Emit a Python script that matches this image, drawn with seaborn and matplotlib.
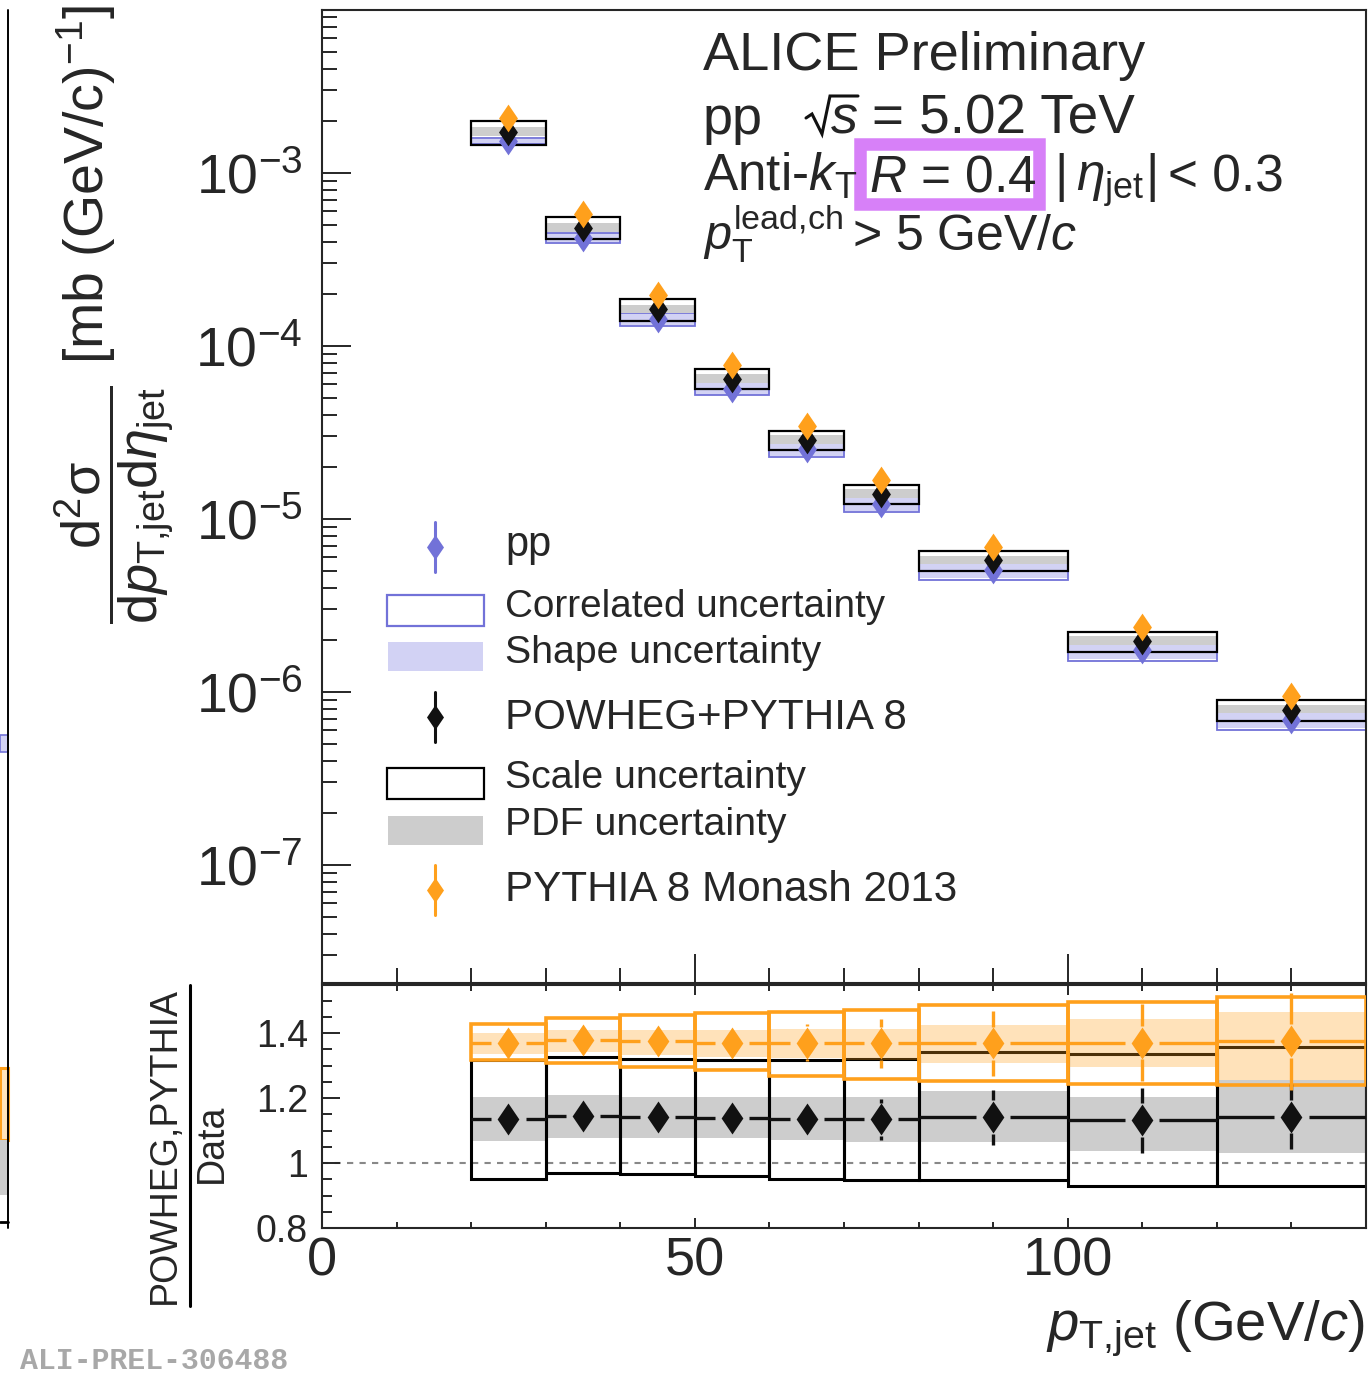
import numpy as np
import pandas as pd
import matplotlib
matplotlib.use("Agg")
import matplotlib.pyplot as plt
import seaborn as sns
from matplotlib.path import Path
from matplotlib.patches import Rectangle
from matplotlib.lines import Line2D
from matplotlib import font_manager
from matplotlib.ticker import (FixedLocator, MultipleLocator, LogLocator,
                               NullFormatter, FixedFormatter)

# ---------------- data ----------------
bin_lo = [20, 30, 40, 50, 60, 70, 80, 100, 120]
bin_hi = [30, 40, 50, 60, 70, 80, 100, 120, 140]

# measured pp cross section and its uncertainties (relative)
pp_xsec = [1.527e-3, 4.22e-4, 1.425e-4, 5.66e-5, 2.525e-5, 1.227e-5, 5.05e-6, 1.74e-6, 6.92e-7]
pp_corr_rel = [0.041, 0.073, 0.087, 0.090, 0.111, 0.123, 0.137, 0.152, 0.147]
pp_shape_rel = [0.035, 0.060, 0.075, 0.080, 0.095, 0.100, 0.110, 0.115, 0.115]

# POWHEG+PYTHIA 8
powheg_xsec = [1.732e-3, 4.83e-4, 1.626e-4, 6.44e-5, 2.863e-5, 1.391e-5, 5.76e-6, 1.97e-6, 7.91e-7]
powheg_scale_up = [1.155, 1.147, 1.145, 1.138, 1.132, 1.130, 1.133, 1.133, 1.138]
powheg_scale_dn = [0.843, 0.856, 0.862, 0.872, 0.875, 0.878, 0.872, 0.862, 0.864]
powheg_pdf_up = [1.066, 1.065, 1.065, 1.065, 1.065, 1.065, 1.068, 1.068, 1.065]
powheg_pdf_dn = [0.945, 0.950, 0.950, 0.950, 0.952, 0.952, 0.955, 0.955, 0.957]

# PYTHIA 8 Monash 2013
pythia_xsec = [2.093e-3, 5.79e-4, 1.959e-4, 7.76e-5, 3.462e-5, 1.68e-5, 6.92e-6, 2.384e-6, 9.51e-7]

# ratio panel: model / data
r_pow = [1.134, 1.145, 1.141, 1.138, 1.134, 1.134, 1.141, 1.132, 1.143]
r_pow_err = [0.020, 0.020, 0.020, 0.020, 0.030, 0.063, 0.085, 0.100, 0.100]
r_pow_pdf_hi = [1.202, 1.209, 1.203, 1.203, 1.202, 1.203, 1.222, 1.203, 1.255]
r_pow_pdf_lo = [1.067, 1.076, 1.076, 1.076, 1.071, 1.066, 1.066, 1.038, 1.030]
r_pow_box_hi = [1.317, 1.325, 1.321, 1.317, 1.317, 1.321, 1.343, 1.337, 1.358]
r_pow_box_lo = [0.950, 0.970, 0.965, 0.959, 0.950, 0.948, 0.948, 0.929, 0.929]

r_pyt = [1.371, 1.378, 1.375, 1.371, 1.371, 1.368, 1.368, 1.371, 1.375]
r_pyt_err = [0.020, 0.020, 0.020, 0.025, 0.056, 0.076, 0.100, 0.118, 0.149]
r_pyt_band_hi = [1.399, 1.409, 1.409, 1.409, 1.414, 1.414, 1.425, 1.442, 1.466]
r_pyt_band_lo = [1.337, 1.343, 1.332, 1.327, 1.322, 1.317, 1.307, 1.296, 1.255]
r_pyt_box_hi = [1.427, 1.445, 1.455, 1.461, 1.466, 1.471, 1.486, 1.496, 1.510]
r_pyt_box_lo = [1.317, 1.309, 1.296, 1.286, 1.268, 1.258, 1.253, 1.243, 1.240]

x_ticklabels = ["0", "50", "100"]
r_ticklabels = ["0.8", "1", "1.2", "1.4"]

# ---------------- style ----------------
sns.set_theme(style="ticks")
plt.rcParams['font.family'] = ['Liberation Sans', 'DejaVu Sans']
plt.rcParams['mathtext.fontset'] = 'custom'
plt.rcParams['mathtext.rm'] = 'Liberation Sans'
plt.rcParams['mathtext.it'] = 'Liberation Sans:italic'
plt.rcParams['mathtext.bf'] = 'Liberation Sans:bold'
plt.rcParams['mathtext.sf'] = 'Liberation Sans'
plt.rcParams['axes.linewidth'] = 1.5

PURPLE = '#7272d8'
LPURPLE = '#d2d2f4'
GREY = '#cdcdcd'
ORANGE = '#ffa01c'
MAGENTA = '#d780f8'

lo = np.array(bin_lo, float)
hi = np.array(bin_hi, float)
xc = (lo + hi) / 2
wd = hi - lo

diamond = Path([(0, 1), (0.68, 0), (0, -1), (-0.68, 0), (0, 1)],
               [Path.MOVETO, Path.LINETO, Path.LINETO, Path.LINETO, Path.CLOSEPOLY])

W, H = 1369, 1373
fig = plt.figure(figsize=(W / 100, H / 100), dpi=100)


def fx(x):
    return x / W


def fy(y):
    return 1 - y / H


ax1 = fig.add_axes([fx(322), fy(983), (1366 - 322) / W, (983 - 10) / H])
ax2 = fig.add_axes([fx(322), fy(1228), (1366 - 322) / W, (1228 - 985) / H])

# ---------------- top panel ----------------
pp = np.array(pp_xsec)
pw = np.array(powheg_xsec)
py = np.array(pythia_xsec)
cr = 1 + np.array(pp_corr_rel)
sr = 1 + np.array(pp_shape_rel)

ax1.bar(xc, pp * sr - pp / sr, bottom=pp / sr, width=wd, color=LPURPLE, lw=0, zorder=1.5)
ax1.bar(xc, pp * cr - pp / cr, bottom=pp / cr, width=wd, fill=False,
        edgecolor=PURPLE, lw=1.3, zorder=2)
pu = pw * np.array(powheg_pdf_up)
pd_ = pw * np.array(powheg_pdf_dn)
ax1.bar(xc, pu - pd_, bottom=pd_, width=wd, color=GREY, lw=0, zorder=2.5)
su = pw * np.array(powheg_scale_up)
sd = pw * np.array(powheg_scale_dn)
ax1.bar(xc, su - sd, bottom=sd, width=wd, fill=False, edgecolor='black', lw=1.6, zorder=3)

sns.scatterplot(x=xc, y=pp, marker=diamond, s=400, color=PURPLE, linewidth=0, ax=ax1, zorder=4)
sns.scatterplot(x=xc, y=pw, marker=diamond, s=400, color='#111111', linewidth=0, ax=ax1, zorder=5)
sns.scatterplot(x=xc, y=py, marker=diamond, s=400, color=ORANGE, linewidth=0, ax=ax1, zorder=6)

ax1.set_yscale('log')
ax1.set_xlim(0, 140)
ax1.set_ylim(10 ** (-7.682), 10 ** (-2.0578))
ax1.yaxis.set_major_locator(LogLocator(base=10, numticks=20))
ax1.yaxis.set_minor_locator(LogLocator(base=10, subs=np.arange(2, 10), numticks=20))
ax1.yaxis.set_minor_formatter(NullFormatter())
ax1.xaxis.set_major_locator(FixedLocator([0, 50, 100]))
ax1.xaxis.set_minor_locator(MultipleLocator(10))
ax1.tick_params(axis='both', which='major', direction='in', length=21, width=1.4,
                labelsize=40, pad=14)
ax1.tick_params(axis='both', which='minor', direction='in', length=11, width=1.4)
ax1.tick_params(axis='x', which='both', labelbottom=False)
ax1.set_xlabel('')
ax1.set_ylabel('')
for s in ax1.spines.values():
    s.set_visible(True)
    s.set_linewidth(1.5)

# ---------------- ratio panel ----------------
ax2.bar(xc, np.array(r_pow_pdf_hi) - np.array(r_pow_pdf_lo), bottom=r_pow_pdf_lo,
        width=wd, color=GREY, lw=0, zorder=1)
ax2.bar(xc, np.array(r_pow_box_hi) - np.array(r_pow_box_lo), bottom=r_pow_box_lo,
        width=wd, fill=False, edgecolor='black', lw=2.2, zorder=2)
ax2.bar(xc, np.array(r_pyt_band_hi) - np.array(r_pyt_band_lo), bottom=r_pyt_band_lo,
        width=wd, color=ORANGE, alpha=0.3, lw=0, zorder=3)
ax2.bar(xc, np.array(r_pyt_box_hi) - np.array(r_pyt_box_lo), bottom=r_pyt_box_lo,
        width=wd, fill=False, edgecolor=ORANGE, lw=2.6, zorder=4)
ax2.axhline(1, color='#888888', ls=(0, (3, 3)), lw=1.5, zorder=0.5)

gx = 2.3      # half gap around marker (GeV)
gy = 0.052    # marker half height (ratio units)
for vals, errs, col in [(r_pow, r_pow_err, '#111111'), (r_pyt, r_pyt_err, ORANGE)]:
    v = np.array(vals)
    e = np.array(errs)
    ax2.hlines(np.r_[v, v], np.r_[lo, xc + gx], np.r_[xc - gx, hi], color=col, lw=2.4, zorder=5)
    m = e > gy
    ax2.vlines(np.r_[xc[m], xc[m]], np.r_[v[m] + gy, v[m] - e[m]], np.r_[v[m] + e[m], v[m] - gy],
               color=col, lw=2.4, zorder=5)

sns.scatterplot(x=xc, y=r_pow, marker=diamond, s=530, color='#111111', linewidth=0, ax=ax2, zorder=6)
sns.scatterplot(x=xc, y=r_pyt, marker=diamond, s=530, color=ORANGE, linewidth=0, ax=ax2, zorder=6)

ax2.set_xlim(0, 140)
ax2.set_ylim(0.8, 1.548)
ax2.xaxis.set_major_locator(FixedLocator([0, 50, 100]))
ax2.xaxis.set_major_formatter(FixedFormatter(x_ticklabels))
ax2.xaxis.set_minor_locator(MultipleLocator(10))
ax2.yaxis.set_major_locator(FixedLocator([0.8, 1.0, 1.2, 1.4]))
ax2.yaxis.set_major_formatter(FixedFormatter(r_ticklabels))
ax2.yaxis.set_minor_locator(MultipleLocator(0.05))
ax2.tick_params(axis='x', which='major', direction='in', length=7, width=1.4,
                top=True, labelsize=39, pad=6)
ax2.tick_params(axis='x', which='minor', direction='in', length=4, width=1.4, top=True)
ax2.tick_params(axis='y', which='major', direction='in', length=13, width=1.4,
                labelsize=27, pad=10)
ax2.tick_params(axis='y', which='minor', direction='in', length=7, width=1.4)
ax2.set_xlabel('')
ax2.set_ylabel('')
for s in ax2.spines.values():
    s.set_visible(True)
    s.set_linewidth(1.5)

# ---------------- texts ----------------
h1 = 39
h2 = 37
fig.text(fx(703), fy(70), "ALICE Preliminary", fontsize=h1, va='baseline')
fig.text(fx(703), fy(134), "pp", fontsize=h1, va='baseline')
# sqrt(s) drawn by hand: radical sign + italic s + overbar
fig.add_artist(Line2D([fx(806), fx(815), fx(827), fx(858)],
                      [fy(116), fy(112), fy(134), fy(134)], alpha=0))
fig.add_artist(Line2D([fx(806), fx(812), fx(822), fx(830), fx(858)],
                      [fy(118), fy(114), fy(134), fy(96), fy(96)], color='#111111', lw=2.2,
                      transform=fig.transFigure, solid_joinstyle='miter'))
fig.text(fx(831), fy(134), "s", fontsize=h1, style='italic', va='baseline')
fig.text(fx(872), fy(134), "= 5.02 TeV", fontsize=h1 + 0.5, va='baseline')
fig.text(fx(703), fy(191), r"Anti-$k_{\mathrm{T}}$", fontsize=h2, va='baseline')
fig.text(fx(869), fy(191), r"$R$ = 0.4", fontsize=h2, va='baseline')
fig.text(fx(1054), fy(191), "|", fontsize=h2, va='baseline')
fig.text(fx(1076), fy(191), r"$\eta_{\mathrm{jet}}$", fontsize=h2, va='baseline')
fig.text(fx(1145), fy(191), "|", fontsize=h2, va='baseline')
fig.text(fx(1168), fy(191), "< 0.3", fontsize=h2, va='baseline')
fig.text(fx(703), fy(250), r"$p_{\mathrm{T}}^{\mathrm{lead{,}ch}}$", fontsize=35, va='baseline')
fig.text(fx(852), fy(250), r"> 5 GeV/$c$", fontsize=36, va='baseline')
fig.add_artist(Rectangle((fx(859.5), fy(204)), 179 / W, 60 / H, fill=False,
                         edgecolor=MAGENTA, lw=9, transform=fig.transFigure))

# y label top (fraction + unit)
fig.text(fx(115), fy(505),
         r"$\dfrac{\mathrm{d}^{2}\mathrm{\sigma}}{\mathrm{d}p_{\mathrm{T{,}jet}}\mathrm{d}\eta_{\mathrm{jet}}}$",
         rotation=90, ha='center', va='center', fontsize=39)
fig.text(fx(86), fy(185), r"[mb (GeV/c)$^{-1}$]",
         rotation=90, ha='center', va='center', fontsize=40)

# ratio y label
names = {f.name for f in font_manager.fontManager.ttflist}
if 'Liberation Sans Narrow' in names:
    nfam, nsize = ['Liberation Sans Narrow', 'DejaVu Sans'], 33
else:
    nfam, nsize = ['Liberation Sans', 'DejaVu Sans'], 27
fig.text(fx(165), fy(1145), "POWHEG,PYTHIA", rotation=90, ha='center', va='center',
         fontsize=nsize, family=nfam)
fig.text(fx(212), fy(1143), "Data", rotation=90, ha='center', va='center',
         fontsize=nsize, family=nfam)
fig.add_artist(Line2D([fx(190), fx(190)], [fy(985), fy(1306)], color='black', lw=2.2,
                      transform=fig.transFigure))

# x label
fig.text(fx(1365), fy(1340), r"$p_{\mathrm{T{,}jet}}$ (GeV/$c$)", ha='right', va='baseline',
         fontsize=40.5)

fig.text(fx(20), fy(1369), "ALI-PREL-306488", family=['Liberation Mono', 'DejaVu Sans Mono'],
         weight='bold', color='#a8a8a8', fontsize=21.5, va='baseline')

# ---------------- legend (manual) ----------------
lx = 435
for yy, col in [(547, PURPLE), (717, '#111111'), (890, ORANGE)]:
    fig.add_artist(Line2D([fx(lx), fx(lx)], [fy(yy - 25), fy(yy + 25)], color=col, lw=2.2,
                          transform=fig.transFigure))
    fig.add_artist(Line2D([fx(lx)], [fy(yy)], marker=diamond, markersize=18, color=col,
                          markeredgewidth=0, transform=fig.transFigure))
fig.add_artist(Rectangle((fx(387), fy(626)), 97 / W, 31 / H, fill=False, edgecolor=PURPLE,
                         lw=1.6, transform=fig.transFigure))
fig.add_artist(Rectangle((fx(388), fy(671)), 95 / W, 29 / H, facecolor=LPURPLE, lw=0,
                         transform=fig.transFigure))
fig.add_artist(Rectangle((fx(387), fy(799)), 97 / W, 31 / H, fill=False, edgecolor='black',
                         lw=1.6, transform=fig.transFigure))
fig.add_artist(Rectangle((fx(388), fy(845)), 95 / W, 29 / H, facecolor=GREY, lw=0,
                         transform=fig.transFigure))
for yy, txt, fs in [(556, "pp", 30), (617, "Correlated uncertainty", 27.8),
                    (663, "Shape uncertainty", 28.3), (729, "POWHEG+PYTHIA 8", 30.3),
                    (788, "Scale uncertainty", 28.3), (835, "PDF uncertainty", 28.3),
                    (901, "PYTHIA 8 Monash 2013", 30.3)]:
    fig.text(fx(505), fy(yy), txt, fontsize=fs, va='baseline')

# ---------------- fragment of neighbouring panel at the left edge ----------------
fig.add_artist(Line2D([fx(8), fx(8)], [fy(10), fy(1228)], color='black', lw=1.4,
                      transform=fig.transFigure))
fig.add_artist(Rectangle((fx(0), fy(752)), 8 / W, 17 / H, facecolor=LPURPLE, edgecolor=PURPLE,
                         lw=1.2, transform=fig.transFigure))
fig.add_artist(Rectangle((fx(0), fy(1140)), 8 / W, 72 / H, facecolor='#ffe3bc', edgecolor=ORANGE,
                         lw=2.2, transform=fig.transFigure))
fig.add_artist(Rectangle((fx(0), fy(1195)), 8 / W, 55 / H, facecolor=GREY, lw=0,
                         transform=fig.transFigure))
fig.add_artist(Line2D([fx(0), fx(8)], [fy(1222), fy(1222)], color='black', lw=2,
                      transform=fig.transFigure))
fig.text(-0.012, fy(1340), ")", fontsize=40, va='baseline')

fig.savefig("out.png", dpi=100)
